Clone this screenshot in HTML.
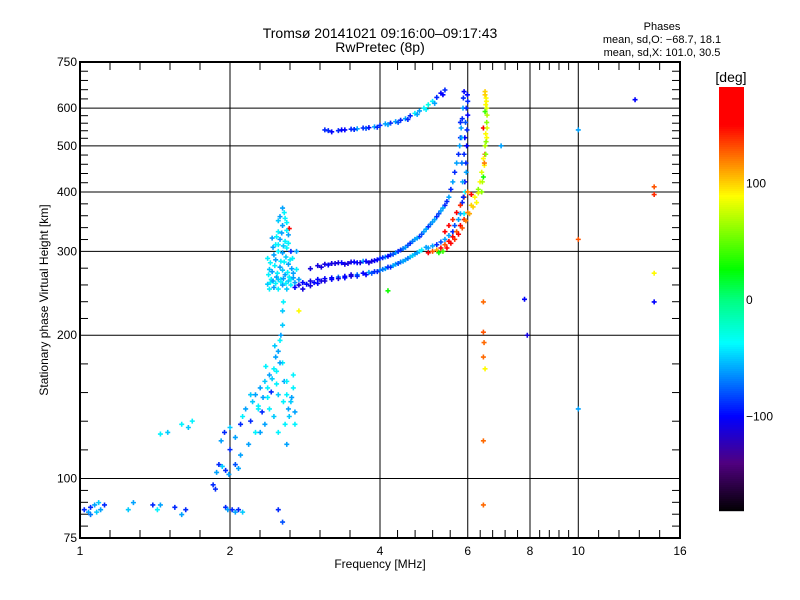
<!DOCTYPE html>
<html><head><meta charset="utf-8"><style>
html,body{margin:0;padding:0;background:#fff;}
svg{display:block;font-family:"Liberation Sans",sans-serif;}
</style></head><body>
<svg id="chart" width="800" height="600" viewBox="0 0 800 600" xmlns="http://www.w3.org/2000/svg">
<text x="380" y="38" font-size="14" text-anchor="middle">Tromsø 20141021 09:16:00–09:17:43</text>
<text x="380" y="52" font-size="14" text-anchor="middle">RwPretec (8p)</text>
<text x="662" y="30" font-size="11" text-anchor="middle">Phases</text>
<text x="662" y="43" font-size="11" text-anchor="middle">mean, sd,O: −68.7, 18.1</text>
<text x="662" y="56" font-size="11" text-anchor="middle">mean, sd,X: 101.0, 30.5</text>
<text x="380" y="568" font-size="12" text-anchor="middle">Frequency [MHz]</text>
<text x="48" y="300" font-size="12" text-anchor="middle" transform="rotate(-90 48 300)">Stationary phase Virtual Height [km]</text>
<text x="731" y="82" font-size="14" text-anchor="middle">[deg]</text>
<g id="grid"></g>
<g id="marks"></g>
<g id="axes"></g>
<g id="cbar"></g>
</svg>
<script>
// ---- data ----
const xTicks = [1, 2, 4, 6, 8, 10, 16];
const xTickLabels = ["1", "2", "4", "6", "8", "10", "16"];
const yTicks = [75, 100, 200, 300, 400, 500, 600, 750];
const yTickLabels = ["75", "100", "200", "300", "400", "500", "600", "750"];
const xGrid = [2, 4, 6, 8, 10];
const yGrid = [100, 200, 300, 400, 500, 600];
const cbarTicks = [-100, 0, 100];
const cbarTickLabels = ["−100", "0", "100"];

const freqs = [
1.02,1.04,1.05,1.07,1.08,1.1,1.12,1.25,1.28,1.4,1.43,1.45,1.55,1.6,1.63,1.05,1.09,
1.96,1.98,2.02,2.05,2.08,2.12,2.55,2.5,
1.85,1.88,1.9,1.93,1.96,1.99,2.05,2.08,1.87,
1.92,1.95,2.0,2.05,2.1,2.12,2.15,2.2,2.22,2.25,2.28,2.3,2.32,2.35,2.38,2.4,2.42,2.45,2.47,2.48,2.5,2.52,2.53,2.55,2.55,2.57,2.6,2.62,2.65,2.68,2.7,2.7,2.18,2.25,2.35,2.45,2.5,2.6,2.0,2.1,2.55,2.56,
1.5,1.6,1.65,1.68,1.45,
2.4,2.45,2.5,2.55,2.6,2.65,2.7,2.42,2.48,2.53,2.58,2.63,2.68,2.4,2.46,2.52,2.57,2.62,2.67,2.45,2.5,2.55,2.6,2.65,2.47,2.52,2.58,2.62,2.5,2.55,2.6,2.52,2.57,2.55,2.63,2.72,2.72,2.75,2.38,2.43,
2.7,2.75,2.8,2.85,2.9,2.95,3.0,3.05,3.1,3.2,3.3,3.4,3.5,3.6,3.7,3.8,3.9,4.0,4.1,4.2,4.3,4.4,4.5,4.6,4.7,4.8,
2.9,3.0,3.1,3.2,3.3,3.4,3.5,3.6,3.7,3.8,3.9,4.0,4.1,4.2,4.3,4.4,4.5,4.6,4.7,4.8,4.9,5.0,5.1,5.2,5.3,5.4,5.5,5.55,5.6,5.65,5.7,5.75,5.78,5.8,5.82,5.85,5.87,5.88,5.9,
5.0,5.2,5.4,5.6,5.75,5.85,5.92,5.95,5.97,5.98,6.0,6.0,5.96,5.93,5.9,
5.0,5.1,5.2,5.3,5.4,5.5,5.6,5.7,5.8,5.9,6.0,6.1,6.2,6.3,6.35,6.4,6.45,6.5,6.52,6.55,6.55,6.53,6.5,
5.4,5.5,5.6,5.7,5.8,5.9,6.0,6.1,6.25,6.4,6.45,6.5,6.55,6.45,6.5,6.52,5.25,5.35,
3.1,3.2,3.3,3.4,3.5,3.6,3.7,3.8,3.9,4.0,4.1,4.2,4.3,4.4,4.5,4.6,4.7,4.8,4.9,5.0,5.1,5.2,5.3,5.4,
6.45,6.45,6.45,6.47,6.45,6.45,6.5,7.8,7.9,10,10,13,14.2,14.2,14.2,14.2,4.15,2.75,7.0,10,
2.38,2.41,2.44,2.47,2.5,2.53,2.56,2.59,2.62,2.65,2.68,2.39,2.43,2.49,2.55,2.61,2.66,2.41,2.47,2.53,2.59,2.64,2.44,2.5,2.56,2.62,2.48,2.54,2.6,2.5,2.58,
2.2,2.28,2.33,2.38,2.43,2.48,2.52,2.58,2.63,2.68,2.3,2.4,2.5,2.6,2.66,2.36,2.46,2.56,
2.8,2.9,3.0,3.1,3.2,3.3,3.4,3.5,3.6,3.75,3.85,3.95,4.05,4.15,4.25,4.35,4.45,4.55,4.65,4.75,4.85,4.95,
3.05,3.15,3.25,3.35,3.45,3.55,3.65,3.75,3.85,3.95,4.05,4.15,4.25,4.35,4.45,4.55,4.65,4.75,4.85,4.95,5.05,5.15,5.25,5.35,5.45,
5.1,5.3,5.5,5.65,5.8,5.88,5.9,5.92,5.94,5.96,5.99,5.86,5.84,5.83,5.8,
5.45,5.55,5.65,5.75,5.85,5.95,6.05,6.15,6.3,6.42,6.48,6.53,6.56,6.56,6.54,6.5,6.48,6.52,
3.15,3.35,3.55,3.75,3.95,4.15,4.35,4.55,4.75,4.95,5.15,5.35
];
const heights = [
86,85,87,88,85,86,88,86,89,88,86,88,87,84,86,84,89,
87,86,86,85,86,85,81,86,
97,103,107,106,104,102,107,105,95,
120,125,128,122,130,135,140,132,145,150,142,155,138,160,148,165,152,170,180,158,185,195,200,175,210,160,150,140,145,155,138,130,118,125,130,135,125,118,115,112,225,235,
125,130,128,132,124,
250,252,250,255,250,255,258,262,265,262,268,265,270,275,280,278,285,282,290,295,300,298,305,300,310,318,315,325,330,340,345,355,362,370,335,300,275,262,290,320,
252,255,258,256,260,258,262,260,263,264,265,266,268,268,270,271,272,274,276,278,282,285,288,292,296,300,
276,280,282,283,284,282,285,284,286,284,287,290,292,295,298,302,306,312,318,322,330,338,346,355,365,375,390,405,420,440,460,480,500,520,545,570,600,630,650,
305,310,318,330,350,380,420,460,500,540,580,620,440,400,360,
298,300,302,305,310,315,322,330,340,350,362,375,390,405,420,440,470,500,530,560,600,630,650,
330,340,350,362,375,390,400,395,380,400,430,480,520,545,590,610,298,300,
540,535,538,540,542,543,545,546,548,552,556,558,562,566,570,578,585,592,600,610,620,632,645,655,
88,120,180,193,203,235,170,238,200,318,140,625,410,395,270,235,248,225,500,540,
256,258,260,257,262,259,263,257,260,262,264,268,272,270,274,271,276,284,288,286,292,288,306,310,308,312,322,328,332,348,352,
150,140,148,155,162,168,175,130,135,165,125,140,150,160,148,172,190,145,
250,254,257,260,262,263,264,266,266,268,270,272,275,278,280,283,286,290,294,298,302,306,
278,281,283,284,283,285,284,286,286,288,291,293,296,300,304,309,315,320,326,334,342,350,360,370,382,
308,314,324,340,360,390,480,520,560,600,640,420,460,520,560,
305,312,318,326,336,348,360,372,398,420,455,510,545,580,620,640,460,480,
538,540,541,544,547,554,560,568,582,596,614,640
];
const phases = [
-90,-60,-90,-60,-50,-60,-90,-50,-60,-90,-40,-60,-90,-60,-90,-70,-50,
-90,-60,-90,-60,-90,-50,-80,-90,
-90,-60,-90,-50,-90,-60,-80,-60,-90,
-60,-90,-50,-60,-90,-40,-60,-90,-50,-60,-40,-60,-90,-50,-40,-60,-90,-40,-60,-40,-60,-40,-60,-40,-50,-60,-40,-60,-50,-40,-60,-40,-60,-40,-60,-50,-40,-60,-90,-60,-50,-40,
-50,-40,-50,-40,-40,
-40,-60,-40,-60,-50,-40,-60,-40,-60,-40,-60,-40,-60,-50,-40,-60,-40,-60,-40,-60,-40,-60,-40,-90,-40,-60,-40,-60,-40,-60,-40,-60,-40,-60,150,-60,-40,-60,-40,-60,
-100,-110,-100,-100,-110,-100,-100,-110,-100,-100,-70,-100,-110,-70,-100,-60,-90,-70,-60,-90,-60,-70,-60,-50,-60,-40,
-110,-110,-110,-110,-110,-110,-110,-100,-60,-110,-100,-90,-60,-90,-60,-90,-60,-90,-60,-90,-60,-90,-60,-90,-60,-90,-60,-90,-60,-90,-60,-90,-60,-90,-60,-90,-60,-90,-100,
-60,-90,-60,-90,-60,-90,-100,-90,-100,-90,-100,-90,-60,-40,-40,
150,130,110,150,130,160,150,130,160,140,120,100,90,60,90,80,90,70,90,60,80,90,100,
150,160,140,150,140,130,120,150,90,60,30,140,90,150,40,90,30,40,
-90,-100,-90,-100,-90,-60,-90,-100,-60,-90,-60,-90,-60,-90,-60,-90,-40,-60,-40,-30,-40,-90,-100,-90,
125,125,125,125,130,125,90,-100,-110,130,-60,-100,130,140,90,-100,30,90,-60,-60,
-50,-40,-60,-40,-50,-40,-60,-40,-50,-40,-60,-40,-60,-40,-50,-40,-60,-40,-60,-40,-50,-40,-60,-40,-50,-40,-40,-60,-40,-50,-40,
-50,-40,-60,-40,-50,-40,-60,-40,-50,-40,-60,-40,-50,-40,-60,-40,-50,-40,
-110,-110,-100,-110,-100,-110,-100,-110,-90,-100,-80,-90,-70,-90,-60,-80,-60,-70,-50,-60,-40,-60,
-110,-100,-110,-100,-110,-100,-110,-100,-110,-100,-90,-100,-80,-90,-70,-80,-70,-60,-80,-60,-70,-60,-80,-60,-90,
-60,-80,-60,-80,-60,-90,-90,-100,-80,-90,-100,-60,-70,-60,-90,
160,150,140,160,130,120,110,100,80,70,90,60,80,70,90,100,120,60,
-90,-100,-90,-80,-90,-60,-80,-90,-60,-40,-60,-100
];

// ---- axes ----
const L = 80, R = 680, T = 62, B = 538;
function xs(f) { return L + 150 * Math.log2(f); }
function ys(h) { return B - (B - T) * Math.log10(h / 75); }
const cTop = 87, cBot = 510, cX = 719, cW = 25;
function cy(v) { return 300 - v * 1.165; }
const stops = [[-182,[0,0,0]],[-140,[80,0,128]],[-100,[0,0,255]],[-37,[0,255,255]],[0,[0,255,128]],[26,[0,255,0]],[89,[255,255,0]],[150,[255,0,0]],[185,[255,0,0]]];
function color(v) {
  for (let i = 0; i < stops.length - 1; i++) {
    const a = stops[i], b = stops[i + 1];
    if (v <= b[0]) {
      const t = Math.max(0, (v - a[0]) / (b[0] - a[0]));
      const c = a[1].map((q, k) => Math.round(q + (b[1][k] - q) * t));
      return `rgb(${c[0]},${c[1]},${c[2]})`;
    }
  }
  return "rgb(255,0,0)";
}
const NS = "http://www.w3.org/2000/svg";
function mk(tag, attrs, parent) {
  const e = document.createElementNS(NS, tag);
  for (const k in attrs) e.setAttribute(k, attrs[k]);
  parent.appendChild(e); return e;
}
const grid = document.getElementById('grid');
const axes = document.getElementById('axes');
const marks = document.getElementById('marks');
const cbar = document.getElementById('cbar');

xGrid.forEach(f => {
  const l = mk('line', {x1: xs(f), x2: xs(f), y1: T, y2: B, stroke: '#000', 'stroke-width': 1}, grid);
  
  
});
yGrid.forEach(h => {
  const l = mk('line', {x1: L, x2: R, y1: ys(h), y2: ys(h), stroke: '#000', 'stroke-width': 1}, grid);
  
  
});

for (let i = 0; i < freqs.length; i++) {
  const x = xs(freqs[i]), y = ys(heights[i]), c = color(phases[i]);
  const p = mk('path', {d: `M${x-2.5},${y}h5M${x},${y-2.5}v5`, stroke: c, 'stroke-width': 1.6, fill: 'none'}, marks);
  
  
}

const fr = mk('rect', {x: L, y: T, width: R - L, height: B - T, fill: 'none', stroke: '#000', 'stroke-width': 2}, axes);



for (let i = 0; i < xTicks.length - 1; i++) {
  const a = xs(xTicks[i]), b = xs(xTicks[i + 1]);
  for (let k = 1; k < 5; k++) {
    const x = a + (b - a) * k / 5;
    mk('line', {x1: x, x2: x, y1: B, y2: B - 8, stroke: '#000'}, axes);
    mk('line', {x1: x, x2: x, y1: T, y2: T + 8, stroke: '#000'}, axes);
  }
}
for (let i = 0; i < yTicks.length - 1; i++) {
  const a = ys(yTicks[i]), b = ys(yTicks[i + 1]);
  for (let k = 1; k < 5; k++) {
    const y = a + (b - a) * k / 5;
    mk('line', {x1: L, x2: L + 8, y1: y, y2: y, stroke: '#000'}, axes);
    mk('line', {x1: R, x2: R - 8, y1: y, y2: y, stroke: '#000'}, axes);
  }
}
xTicks.forEach((f, i) => {
  const t = mk('text', {x: xs(f), y: B + 17, 'font-size': 12, 'text-anchor': 'middle'}, axes);
  t.textContent = xTickLabels[i];
  
  
});
yTicks.forEach((h, i) => {
  const t = mk('text', {x: L - 3, y: ys(h) + 4, 'font-size': 12, 'text-anchor': 'end'}, axes);
  t.textContent = yTickLabels[i];
  
  
});

for (let y = cTop; y < cBot; y += 2) {
  const v = (300 - (y + 1)) / 1.165;
  mk('rect', {x: cX, y: y, width: cW, height: 2.2, fill: color(v)}, cbar);
}
cbarTicks.forEach((v, i) => {
  const t = mk('text', {x: cX + cW + 2, y: cy(v) + 4, 'font-size': 12}, cbar);
  t.textContent = cbarTickLabels[i];
  
  
});
</script>
</body></html>
